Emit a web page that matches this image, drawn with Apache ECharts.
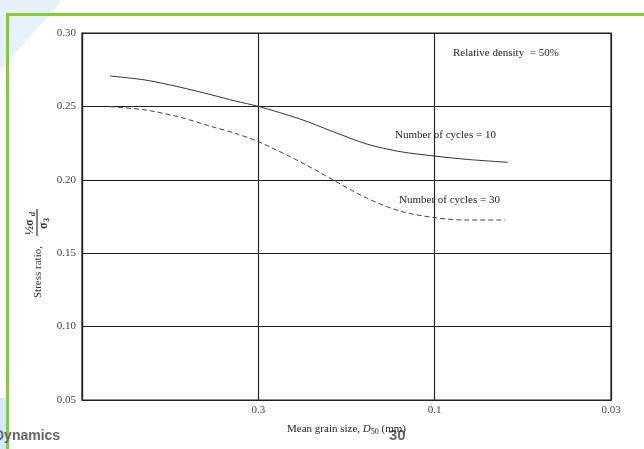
<!DOCTYPE html>
<html><head><meta charset="utf-8">
<script src="https://cdn.jsdelivr.net/npm/echarts@6/dist/echarts.min.js"></script>
<style>html,body{margin:0;padding:0;background:#fff}#c{width:644px;height:449px}</style>
</head><body><div id="c"></div>
<script>
// x positions along the (equally spaced) grain-size axis: 0 = 1 mm, 1 = 0.3, 2 = 0.1, 3 = 0.03
var xTickLabels = ['', '0.3', '0.1', '0.03'];
var yTicks = [0.05, 0.10, 0.15, 0.20, 0.25, 0.30];
var cycles10X = [0.159, 0.357, 0.545, 0.737, 0.868, 1.0, 1.237, 1.424, 1.617, 1.804, 1.999, 2.184, 2.416];
var cycles10Y = [0.2707, 0.2680, 0.2634, 0.2578, 0.2537, 0.2500, 0.2414, 0.2328, 0.2243, 0.2192, 0.2162, 0.2139, 0.2119];
var cycles30X = [0.159, 0.357, 0.545, 0.737, 0.868, 1.0, 1.237, 1.424, 1.617, 1.804, 1.999, 2.184, 2.400];
var cycles30Y = [0.2498, 0.2476, 0.2430, 0.2362, 0.2317, 0.2260, 0.2123, 0.1999, 0.1874, 0.1787, 0.1742, 0.1726, 0.1726];

function pairs(xs, ys){ return xs.map(function(x,i){ return [x, ys[i]]; }); }
var serif = '"Liberation Serif", "DejaVu Serif", serif';
var chart = echarts.init(document.getElementById('c'), null, {renderer:'canvas'});
chart.setOption({
  animation:false,
  backgroundColor:'#fff',
  grid:{left:82, right:33, top:33, bottom:49, show:true, borderColor:'#222', borderWidth:1.2},
  xAxis:{type:'value', min:0, max:3, interval:1,
    axisLine:{show:true, lineStyle:{color:'#222', width:1.2}}, axisTick:{show:false},
    splitLine:{show:true, lineStyle:{color:'#222', width:1.2}},
    axisLabel:{formatter:function(v){ return xTickLabels[Math.round(v)]; }, color:'#444', fontFamily:serif, fontSize:11, margin:5},
    name:'Mean grain size, {i|D}{s|50} (mm)', nameLocation:'middle', nameGap:22,
    nameTextStyle:{color:'#222', fontFamily:serif, fontSize:11,
      rich:{i:{fontStyle:'italic', fontFamily:serif, fontSize:11, color:'#222'}, s:{fontSize:8, fontFamily:serif, color:'#222', verticalAlign:'bottom', padding:[6,0,0,0]}}}
  },
  yAxis:{type:'value', min:0.05, max:0.30, interval:0.05,
    axisLine:{show:true, lineStyle:{color:'#222', width:1.2}}, axisTick:{show:false},
    splitLine:{show:true, lineStyle:{color:'#222', width:1.2}},
    axisLabel:{formatter:function(v){ return v.toFixed(2); }, color:'#444', fontFamily:serif, fontSize:11, margin:6}
  },
  series:[
    {type:'line', data:pairs(cycles10X, cycles10Y), smooth:0.3, showSymbol:false, lineStyle:{color:'#333', width:1}},
    {type:'line', data:pairs(cycles30X, cycles30Y), smooth:0.3, showSymbol:false, lineStyle:{color:'#444', width:1, type:[5,3]}}
  ],
  graphic:[
    {type:'polygon', z:-10, shape:{points:[[0,0],[62,0],[0,70]]}, style:{fill:'#e6f1fb'}},
    {type:'rect', z:-10, shape:{x:0, y:398, width:6, height:51}, style:{fill:'#d6e9f8'}},
    {type:'rect', shape:{x:6, y:13, width:638, height:3}, style:{fill:'#7fd12c'}},
    {type:'rect', shape:{x:6, y:13, width:3, height:436}, style:{fill:'#7fd12c'}},
    {type:'text', left:453, top:48, style:{text:'Relative density  = 50%', font:'11px '+serif, fill:'#222'}},
    {type:'text', left:395, top:130, style:{text:'Number of cycles = 10', font:'11px '+serif, fill:'#222'}},
    {type:'text', left:399, top:195, style:{text:'Number of cycles = 30', font:'11px '+serif, fill:'#222'}},
    {type:'group', x:38, y:298, rotation:Math.PI/2, children:[
      {type:'text', x:0, y:0, style:{text:'Stress ratio,', font:'11px '+serif, fill:'#333', textVerticalAlign:'middle'}},
      {type:'text', x:63, y:-8, style:{text:'\u00bd\u03c3', font:'bold 12px '+serif, fill:'#333', textVerticalAlign:'middle'}},
      {type:'text', x:82, y:-5, style:{text:'d', font:'italic bold 8px '+serif, fill:'#333', textVerticalAlign:'middle'}},
      {type:'line', shape:{x1:62, y1:-1, x2:89, y2:-1}, style:{stroke:'#333', lineWidth:1.2}},
      {type:'text', x:69, y:6, style:{text:'\u03c3', font:'bold 12px '+serif, fill:'#333', textVerticalAlign:'middle'}},
      {type:'text', x:76, y:9, style:{text:'3', font:'bold 8px '+serif, fill:'#333', textVerticalAlign:'middle'}}
    ]},
    {type:'text', left:-6, top:429, style:{text:'Dynamics', font:'bold 14px "Liberation Sans", Arial, sans-serif', fill:'#666'}},
    {type:'text', left:389, top:428, style:{text:'30', font:'bold 15px "Liberation Sans", Arial, sans-serif', fill:'#666'}}
  ]
});
</script></body></html>
